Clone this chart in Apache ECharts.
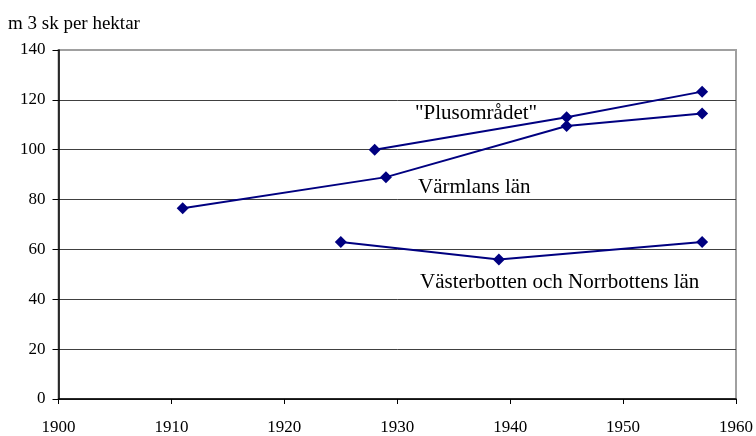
<!DOCTYPE html>
<html>
<head>
<meta charset="utf-8">
<script src="https://cdn.jsdelivr.net/npm/echarts@6/dist/echarts.min.js"></script>
<style>html,body{margin:0;padding:0;background:#fff}#c{width:756px;height:436px}</style>
</head>
<body>
<div id="c"></div>
<script>
// Data
const plusYears = [1928, 1945, 1957];
const plusValues = [100, 113, 123.3];
const varmYears = [1911, 1929, 1945, 1957];
const varmValues = [76.5, 89, 109.5, 114.5];
const vastYears = [1925, 1939, 1957];
const vastValues = [63, 56, 63];
const yTicks = [0, 20, 40, 60, 80, 100, 120, 140];
const xTicks = [1900, 1910, 1920, 1930, 1940, 1950, 1960];
const labels = ['"Plusområdet"', 'Värmlans län', 'Västerbotten och Norrbottens län'];

const FONT = '"Liberation Serif", "DejaVu Serif", serif';
const NAVY = '#000080';

function pairs(xs, ys) { return xs.map((x, i) => [x, ys[i]]); }
function lineSeries(name, xs, ys) {
  return {
    name: name, type: 'line', data: pairs(xs, ys),
    symbol: 'diamond', symbolSize: 12,
    lineStyle: { color: NAVY, width: 2 },
    itemStyle: { color: NAVY },
    animation: false
  };
}

const chart = echarts.init(document.getElementById('c'), null, { renderer: 'canvas' });
const splitColors = yTicks.map((t, i) => i === yTicks.length - 1 ? '#a0a0a0' : '#404040');
chart.setOption({
  animation: false,
  backgroundColor: '#fff',
  title: {
    text: 'm 3 sk per hektar', left: 3, top: 10,
    textStyle: { fontFamily: FONT, fontSize: 19, fontWeight: 'normal', color: '#000' }
  },
  grid: { left: 58.5, right: 20, top: 50, bottom: 37, show: true, borderColor: '#a0a0a0', borderWidth: 2, backgroundColor: 'transparent' },
  xAxis: {
    type: 'value', min: xTicks[0], max: xTicks[xTicks.length - 1], interval: 10,
    axisLine: { lineStyle: { color: '#000', width: 1.5 } },
    axisTick: { show: true, inside: false, length: 5, lineStyle: { color: '#000' } },
    axisLabel: { margin: 20, fontFamily: FONT, fontSize: 17, color: '#000', formatter: v => String(v) },
    splitLine: { show: false }
  },
  yAxis: {
    type: 'value', min: yTicks[0], max: yTicks[yTicks.length - 1], interval: 20,
    axisLine: { show: true, lineStyle: { color: '#000', width: 1.5 } },
    axisTick: { show: true, inside: false, length: 6, lineStyle: { color: '#000' } },
    axisLabel: { margin: 13, fontFamily: FONT, fontSize: 17, color: '#000' },
    splitLine: { show: true, lineStyle: { color: splitColors, width: 1 } }
  },
  series: [
    lineSeries(labels[0], plusYears, plusValues),
    lineSeries(labels[1], varmYears, varmValues),
    lineSeries(labels[2], vastYears, vastValues)
  ],
  graphic: [
    { type: 'text', left: 415, top: 103, style: { text: labels[0], font: '21px ' + FONT, fill: '#000' } },
    { type: 'text', left: 418, top: 177, style: { text: labels[1], font: '21px ' + FONT, fill: '#000' } },
    { type: 'text', left: 420, top: 272, style: { text: labels[2], font: '21px ' + FONT, fill: '#000' } }
  ]
});
</script>
</body>
</html>
